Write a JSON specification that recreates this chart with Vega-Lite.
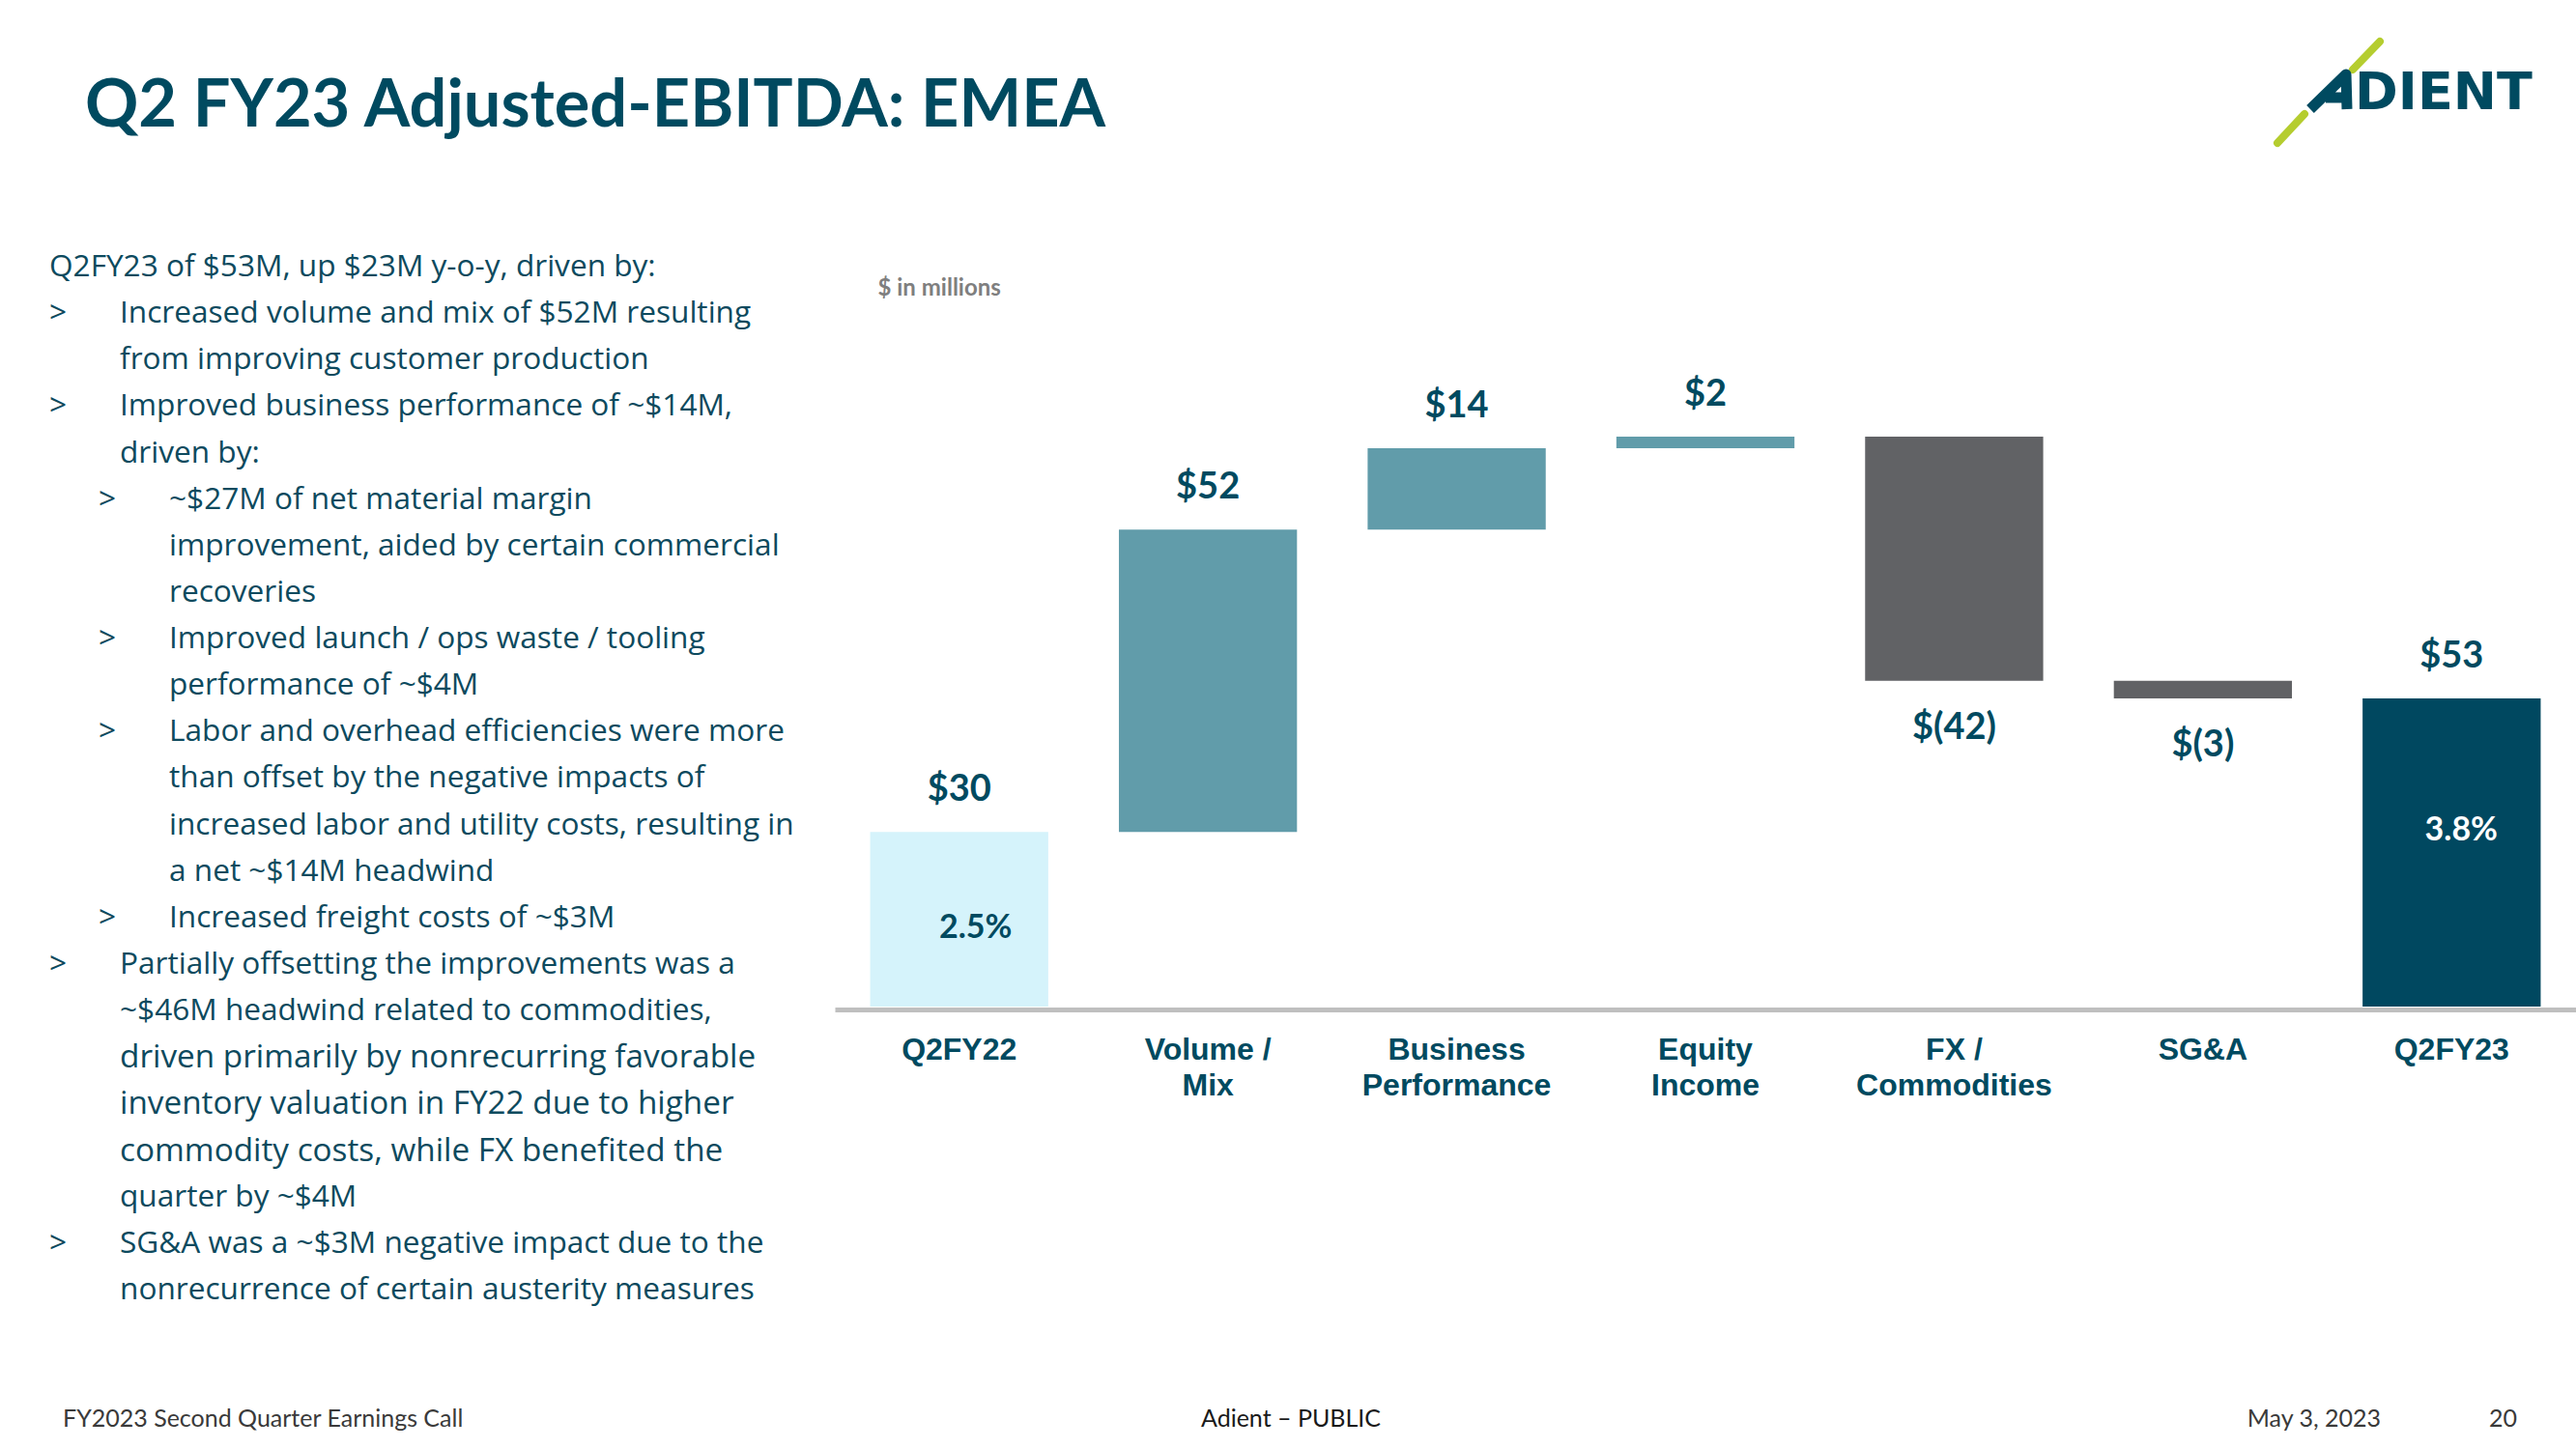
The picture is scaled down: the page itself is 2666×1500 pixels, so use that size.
{
  "$schema": "https://vega.github.io/schema/vega-lite/v6.json",
  "padding": 0,
  "background": "#FFFFFF",
  "spacing": 0,
  "config": {"view": {"stroke": null}, "font": "Lato", "concat": {"spacing": 0}},
  "vconcat": [
    {
      "bounds": "flush",
      "spacing": 2161,
      "hconcat": [
        {
          "width": 176,
          "height": 190,
          "data": {"values": [{"title": "Q2 FY23 Adjusted-EBITDA: EMEA"}]},
          "mark": {"type": "text", "align": "left", "baseline": "alphabetic", "dy": 36, "font": "Lato", "fontWeight": "bold", "fontSize": 68.5, "color": "#004A60"},
          "encoding": {"text": {"field": "title", "type": "nominal"}}
        },
        {
          "width": 200,
          "height": 190,
          "data": {"values": [{"brand": "Adient"}]},
          "layer": [
            {
              "mark": {"type": "point", "shape": "M-0.80,0.53L-0.52,0.23M-0.02,-0.23L0.26,-0.52", "size": 40000, "filled": false, "stroke": "#B5CD2F", "strokeWidth": 8, "strokeCap": "round", "opacity": 1},
              "encoding": {}
            },
            {
              "mark": {"type": "point", "shape": "M-0.46,0.18L-0.09,-0.18L-0.08,0.18M-0.30,0.06L-0.085,0.06", "size": 40000, "filled": false, "stroke": "#004A60", "strokeWidth": 11, "strokeJoin": "round", "opacity": 1},
              "encoding": {}
            },
            {
              "mark": {"type": "text", "text": "DIENT", "align": "left", "baseline": "alphabetic", "dy": 18, "font": "DejaVu Sans", "fontWeight": "bold", "fontSize": 54, "color": "#004A60"},
              "encoding": {}
            }
          ]
        }
      ]
    },
    {
      "bounds": "flush",
      "spacing": 0,
      "hconcat": [
        {
          "width": 864,
          "height": 1220,
          "data": {"values": [
            {"line": 1, "level": 1, "kind": "lead", "text": "Q2FY23 of $53M, up $23M y-o-y, driven by:"},
            {"line": 2, "level": 1, "kind": "bullet", "text": "Increased volume and mix of $52M resulting"},
            {"line": 3, "level": 1, "kind": "cont", "text": "from improving customer production"},
            {"line": 4, "level": 1, "kind": "bullet", "text": "Improved business performance of ~$14M,"},
            {"line": 5, "level": 1, "kind": "cont", "text": "driven by:"},
            {"line": 6, "level": 2, "kind": "bullet", "text": "~$27M of net material margin"},
            {"line": 7, "level": 2, "kind": "cont", "text": "improvement, aided by certain commercial"},
            {"line": 8, "level": 2, "kind": "cont", "text": "recoveries"},
            {"line": 9, "level": 2, "kind": "bullet", "text": "Improved launch / ops waste / tooling"},
            {"line": 10, "level": 2, "kind": "cont", "text": "performance of ~$4M"},
            {"line": 11, "level": 2, "kind": "bullet", "text": "Labor and overhead efficiencies were more"},
            {"line": 12, "level": 2, "kind": "cont", "text": "than offset by the negative impacts of"},
            {"line": 13, "level": 2, "kind": "cont", "text": "increased labor and utility costs, resulting in"},
            {"line": 14, "level": 2, "kind": "cont", "text": "a net ~$14M headwind"},
            {"line": 15, "level": 2, "kind": "bullet", "text": "Increased freight costs of ~$3M"},
            {"line": 16, "level": 1, "kind": "bullet", "text": "Partially offsetting the improvements was a"},
            {"line": 17, "level": 1, "kind": "cont", "text": "~$46M headwind related to commodities,"},
            {"line": 18, "level": 1, "kind": "cont", "text": "driven primarily by nonrecurring favorable"},
            {"line": 19, "level": 1, "kind": "cont", "text": "inventory valuation in FY22 due to higher"},
            {"line": 20, "level": 1, "kind": "cont", "text": "commodity costs, while FX benefited the"},
            {"line": 21, "level": 1, "kind": "cont", "text": "quarter by ~$4M"},
            {"line": 22, "level": 1, "kind": "bullet", "text": "SG&A was a ~$3M negative impact due to the"},
            {"line": 23, "level": 1, "kind": "cont", "text": "nonrecurrence of certain austerity measures"}
          ]},
          "encoding": {
            "x": {"field": "level", "type": "quantitative", "scale": {"domain": [0, 16.94], "nice": false, "zero": false}, "axis": null},
            "y": {"field": "line", "type": "quantitative", "scale": {"domain": [-0.807, 24.538], "nice": false, "zero": false, "reverse": true}, "axis": null}
          },
          "layer": [
            {
              "transform": [{"filter": "datum.kind == 'lead'"}],
              "mark": {"type": "text", "align": "left", "baseline": "middle", "font": "Open Sans", "fontSize": 31.6, "color": "#0D4A5E"},
              "encoding": {"text": {"field": "text", "type": "nominal"}}
            },
            {
              "transform": [{"filter": "datum.kind != 'lead' && (datum.line < 18 || datum.line > 20)"}],
              "mark": {"type": "text", "align": "left", "baseline": "middle", "dx": 73, "font": "Open Sans", "fontSize": 31.6, "color": "#0D4A5E"},
              "encoding": {"text": {"field": "text", "type": "nominal"}}
            },
            {
              "transform": [{"filter": "datum.line >= 18 && datum.line <= 20"}],
              "mark": {"type": "text", "align": "left", "baseline": "middle", "dx": 73, "font": "Open Sans", "fontSize": 33.3, "color": "#0D4A5E"},
              "encoding": {"text": {"field": "text", "type": "nominal"}}
            },
            {
              "transform": [{"filter": "datum.kind == 'bullet'"}],
              "mark": {"type": "text", "text": ">", "align": "left", "baseline": "middle", "font": "Open Sans", "fontSize": 31.6, "color": "#0D4A5E"},
              "encoding": {}
            }
          ]
        },
        {
          "width": 1802,
          "height": 852,
          "data": {"values": [
            {"step": "Q2FY22", "kind": "base", "start": 0, "end": 30, "label": "$30", "margin": "2.5%"},
            {"step": "Volume / Mix", "kind": "increase", "start": 30, "end": 82, "label": "$52", "margin": null},
            {"step": "Business Performance", "kind": "increase", "start": 82, "end": 96, "label": "$14", "margin": null},
            {"step": "Equity Income", "kind": "increase", "start": 96, "end": 98, "label": "$2", "margin": null},
            {"step": "FX / Commodities", "kind": "decrease", "start": 98, "end": 56, "label": "$(42)", "margin": null},
            {"step": "SG&A", "kind": "decrease", "start": 56, "end": 53, "label": "$(3)", "margin": null},
            {"step": "Q2FY23", "kind": "total", "start": 0, "end": 53, "label": "$53", "margin": "3.8%"}
          ]},
          "encoding": {
            "x": {
              "field": "step", "type": "nominal", "sort": null,
              "scale": {"domain": ["Q2FY22", "Volume / Mix", "Business Performance", "Equity Income", "FX / Commodities", "SG&A", "Q2FY23"], "paddingInner": 0.284, "paddingOuter": 0.142},
              "axis": {
                "title": null, "labelAngle": 0, "labelFont": "Liberation Sans", "labelFontWeight": "bold", "labelFontSize": 32,
                "labelColor": "#004A60", "labelPadding": 26, "labelLineHeight": 37, "labelBaseline": "top", "labelLimit": 0,
                "ticks": false, "tickSize": 0, "domainColor": "#BFBFBF", "domainWidth": 5, "offset": 3,
                "labelExpr": "datum.label == 'Volume / Mix' ? ['Volume /', 'Mix'] : datum.label == 'Business Performance' ? ['Business', 'Performance'] : datum.label == 'Equity Income' ? ['Equity', 'Income'] : datum.label == 'FX / Commodities' ? ['FX /', 'Commodities'] : datum.label"
              }
            },
            "y": {
              "field": "end", "type": "quantitative",
              "scale": {"domain": [0, 141.5], "nice": false, "zero": true},
              "axis": {
                "title": "$ in millions", "titleAngle": 0, "titleX": 44, "titleY": 115, "titleAlign": "left", "titleBaseline": "alphabetic",
                "titleFont": "Lato", "titleFontWeight": "bold", "titleFontSize": 24, "titleColor": "#7F7F7F",
                "labels": false, "ticks": false, "domain": false, "grid": false
              }
            }
          },
          "layer": [
            {
              "mark": {"type": "bar"},
              "encoding": {
                "y2": {"field": "start"},
                "color": {"field": "kind", "type": "nominal", "legend": null,
                  "scale": {"domain": ["base", "increase", "decrease", "total"], "range": ["#D5F3FB", "#619CAA", "#616265", "#004860"]}}
              }
            },
            {
              "transform": [{"filter": "datum.kind != 'decrease'"}],
              "mark": {"type": "text", "baseline": "alphabetic", "dy": -32, "font": "Lato", "fontWeight": "bold", "fontSize": 38, "color": "#004A60"},
              "encoding": {"text": {"field": "label", "type": "nominal"}}
            },
            {
              "transform": [{"filter": "datum.kind == 'decrease'"}],
              "mark": {"type": "text", "baseline": "alphabetic", "dy": 60, "font": "Lato", "fontWeight": "bold", "fontSize": 38, "color": "#004A60"},
              "encoding": {"text": {"field": "label", "type": "nominal"}}
            },
            {
              "transform": [{"filter": "datum.step == 'Q2FY22'"}],
              "mark": {"type": "text", "baseline": "middle", "dy": 100, "dx": 17, "font": "Lato", "fontWeight": "bold", "fontSize": 34, "color": "#004A60"},
              "encoding": {"text": {"field": "margin", "type": "nominal"}}
            },
            {
              "transform": [{"filter": "datum.step == 'Q2FY23'"}],
              "mark": {"type": "text", "baseline": "middle", "dy": 137, "dx": 10, "font": "Lato", "fontWeight": "bold", "fontSize": 34, "color": "#FFFFFF"},
              "encoding": {"text": {"field": "margin", "type": "nominal"}}
            }
          ]
        }
      ]
    },
    {
      "bounds": "flush",
      "spacing": 0,
      "hconcat": [
        {
          "width": 130, "height": 90,
          "data": {"values": [{"note": "FY2023 Second Quarter Earnings Call"}]},
          "mark": {"type": "text", "align": "left", "baseline": "alphabetic", "dy": 22, "font": "Lato", "fontSize": 25, "color": "#3A3A3A"},
          "encoding": {"text": {"field": "note", "type": "nominal"}}
        },
        {
          "width": 2226, "height": 90,
          "data": {"values": [{"note": "Adient – PUBLIC"}]},
          "mark": {"type": "text", "align": "left", "baseline": "alphabetic", "dy": 22, "font": "Lato", "fontSize": 25, "color": "#1A1A1A"},
          "encoding": {"text": {"field": "note", "type": "nominal"}}
        },
        {
          "width": 216, "height": 90,
          "data": {"values": [{"note": "May 3, 2023"}]},
          "mark": {"type": "text", "align": "right", "baseline": "alphabetic", "dy": 22, "font": "Lato", "fontSize": 25, "color": "#3A3A3A"},
          "encoding": {"text": {"field": "note", "type": "nominal"}}
        },
        {
          "width": 8, "height": 90,
          "data": {"values": [{"note": "20"}]},
          "mark": {"type": "text", "align": "left", "baseline": "alphabetic", "dy": 22, "font": "Lato", "fontSize": 25, "color": "#3A3A3A"},
          "encoding": {"text": {"field": "note", "type": "nominal"}}
        }
      ]
    }
  ]
}
